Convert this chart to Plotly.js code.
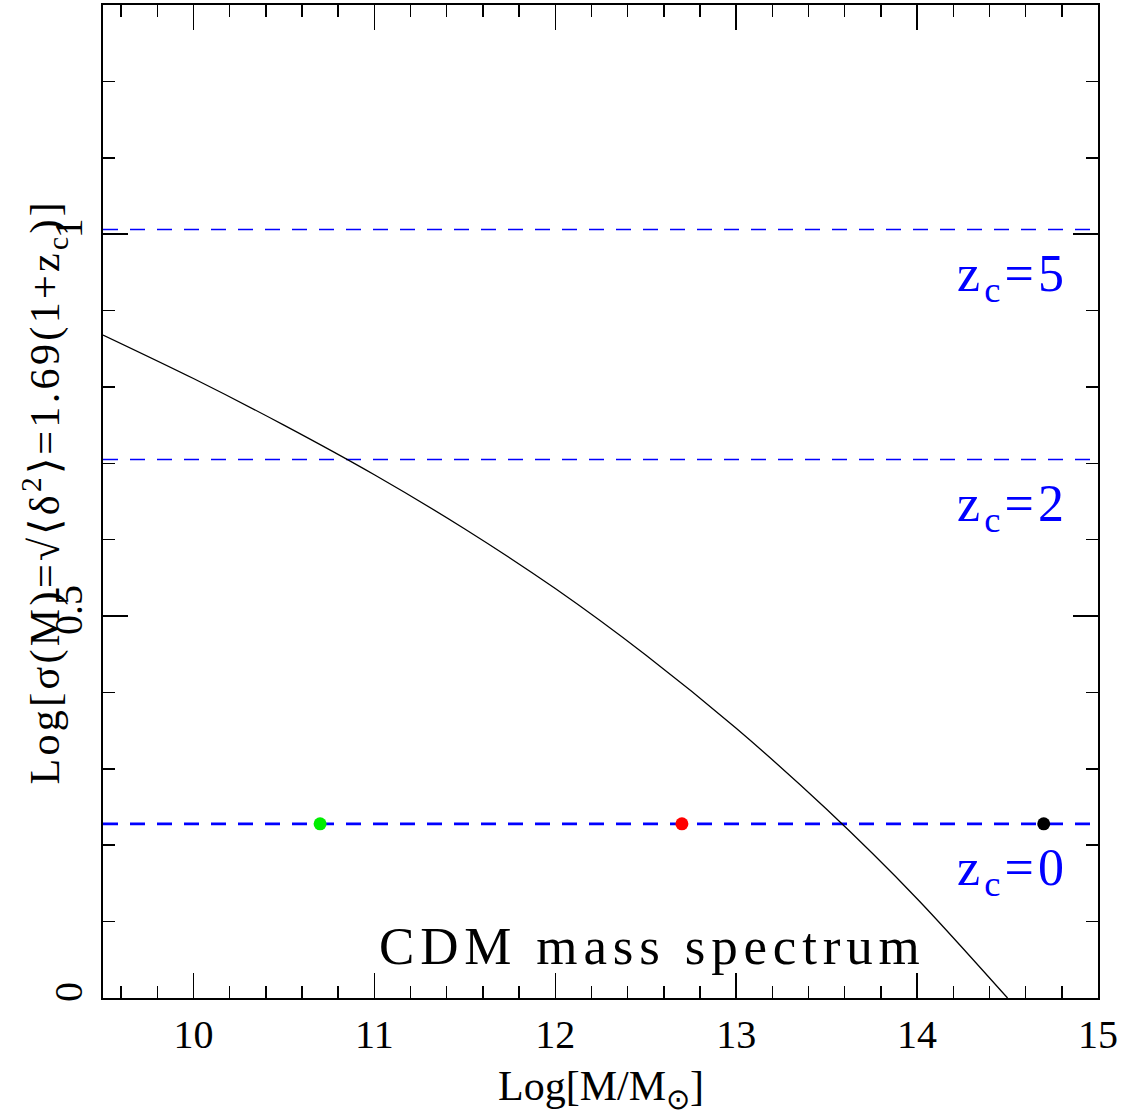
<!DOCTYPE html>
<html>
<head>
<meta charset="utf-8">
<script src="https://cdn.plot.ly/plotly-3.0.1.min.js"></script>
<style>
  html, body { margin: 0; padding: 0; background: #ffffff; }
  #chart { width: 1132px; height: 1118px; }
  text[data-unformatted^="CDM"] { letter-spacing: 0.11em; }
  text[data-unformatted^="z<sub>"] { letter-spacing: 0.08em; }
  text[data-unformatted^="Log[σ"] { letter-spacing: 0.08em; }
</style>
</head>
<body>
<div id="chart"></div>
<script>
// CDM mass variance: Log sigma(M) against Log halo mass
const logMass  = [9.5, 10.0, 10.5, 11.0, 11.5, 12.0, 12.5, 13.0, 13.5, 14.0, 14.5];
const logSigma = [0.868, 0.811, 0.750, 0.685, 0.614, 0.536, 0.449, 0.353, 0.247, 0.130, 0.000];

// collapse thresholds Log[1.69(1+z_c)] for each collapse redshift
const collapseRedshifts = [0, 2, 5];
const thresholdLevels   = [0.228, 0.705, 1.006];

// halo masses marked on the z_c = 0 threshold
const haloMasses = [10.7, 12.7, 14.7];
const haloColors = ['#00ee00', '#ff0000', '#000000'];

const xRange = [9.5, 15];
const yRange = [0, 1.3];

const FONT = 'Liberation Serif, Times New Roman, serif';
const BLUE = '#0000ff';

const traces = [];

// dashed threshold lines
thresholdLevels.forEach((lv, i) => {
  traces.push({
    type: 'scatter', mode: 'lines',
    x: xRange, y: [lv, lv],
    line: { color: BLUE, width: collapseRedshifts[i] === 0 ? 2.6 : 1.6, dash: '15px,12px' },
    hoverinfo: 'skip', showlegend: false
  });
});

// sigma(M) curve
traces.push({
  type: 'scatter', mode: 'lines',
  x: logMass, y: logSigma,
  line: { color: '#000000', width: 1.3, shape: 'spline', smoothing: 0.8 },
  hoverinfo: 'skip', showlegend: false
});

// halo markers
traces.push({
  type: 'scatter', mode: 'markers',
  x: haloMasses, y: haloMasses.map(() => thresholdLevels[0]),
  marker: { color: haloColors, size: 13, line: { width: 0 } },
  hoverinfo: 'skip', showlegend: false
});

const annotations = [];

collapseRedshifts.forEach((z, i) => {
  annotations.push({
    xref: 'x', yref: 'y',
    x: 14.53, y: thresholdLevels[i] - 0.063,
    xanchor: 'center', yanchor: 'middle',
    text: 'z<sub>c</sub>=' + z,
    showarrow: false,
    font: { family: FONT, size: 52, color: BLUE }
  });
});

annotations.push({
  xref: 'x', yref: 'y',
  x: 12.54, y: 0.068,
  xanchor: 'center', yanchor: 'middle',
  text: 'CDM mass spectrum',
  showarrow: false,
  font: { family: FONT, size: 53, color: '#000000' }
});

// axis titles
annotations.push({
  xref: 'paper', yref: 'paper',
  x: 0.5, y: -0.092,
  xanchor: 'center', yanchor: 'middle',
  text: 'Log[M/M<sub>⊙</sub>]',
  showarrow: false,
  font: { family: FONT, size: 42, color: '#000000' }
});

annotations.push({
  xref: 'paper', yref: 'paper',
  x: 0, xshift: -59, y: 0.51,
  xanchor: 'center', yanchor: 'middle',
  textangle: -90,
  text: 'Log[σ(M)=√⟨δ<sup>2</sup>⟩=1.69(1+z<sub>c</sub>)]',
  showarrow: false,
  font: { family: FONT, size: 42, color: '#000000' }
});

const axisCommon = {
  showgrid: false, zeroline: false,
  showline: true, linecolor: '#000000', linewidth: 2,
  mirror: 'all',
  ticks: 'inside', ticklen: 25, tickwidth: 1.5, tickcolor: '#000000',
  tickfont: { family: FONT, size: 40, color: '#000000' }
};

const layout = {
  width: 1132, height: 1118,
  margin: { l: 103, r: 34, t: 5, b: 120 },
  paper_bgcolor: '#ffffff', plot_bgcolor: '#ffffff',
  showlegend: false,
  xaxis: Object.assign({}, axisCommon, {
    range: xRange, tick0: 10, dtick: 1,
    ticklabelstandoff: 0,
    minor: { dtick: 0.2, tick0: 10, ticks: 'inside', ticklen: 12, tickwidth: 1.5, tickcolor: '#000000' }
  }),
  yaxis: Object.assign({}, axisCommon, {
    range: yRange, tick0: 0, dtick: 0.5,
    tickangle: -90,
    ticklabelstandoff: 3,
    minor: { dtick: 0.1, tick0: 0, ticks: 'inside', ticklen: 12, tickwidth: 1.5, tickcolor: '#000000' }
  }),
  annotations: annotations
};

Plotly.newPlot('chart', traces, layout, { displayModeBar: false, staticPlot: true });
</script>
</body>
</html>
